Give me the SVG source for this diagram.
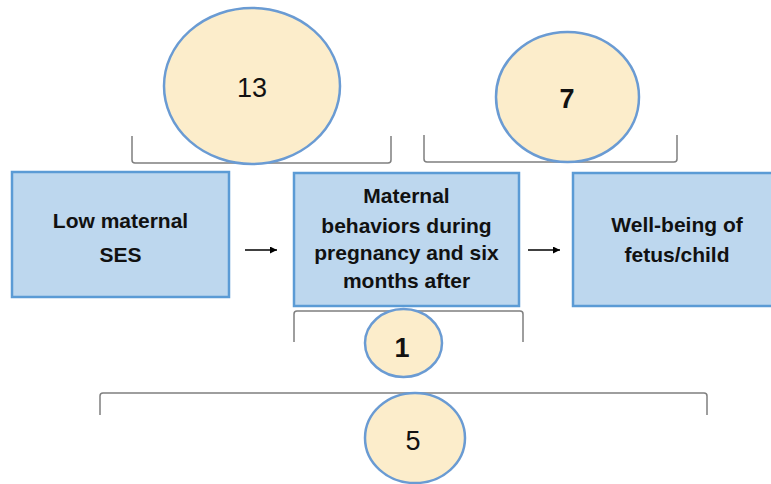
<svg xmlns="http://www.w3.org/2000/svg" width="771" height="484" viewBox="0 0 771 484">
<style>
.box{fill:#BDD7EE;stroke:#5B9BD5;stroke-width:2.5}
.ell{fill:#FCEDCB;stroke:#6A9BD3;stroke-width:2.5}
.br{fill:none;stroke:#7F7F7F;stroke-width:1.5}
.bt{font-family:"Liberation Sans",Arial,sans-serif;font-weight:bold;font-size:21px;fill:#111;text-anchor:middle}
.num{font-family:"Liberation Sans",Arial,sans-serif;font-size:27px;fill:#111;text-anchor:middle}
.arr{stroke:#000;stroke-width:1.5;fill:none}
</style>
<defs>
<marker id="ah" viewBox="0 0 10 10" refX="10" refY="5" markerWidth="7" markerHeight="7" orient="auto" markerUnits="userSpaceOnUse">
<path d="M0,0 L10,5 L0,10 Z" fill="#000"/>
</marker>
</defs>
<g id="brackets">
<path class="br" d="M132,136 V160 Q132,163 135,163 H388 Q391,163 391,160 V136"/>
<path class="br" d="M424,135 V159 Q424,162 427,162 H674 Q677,162 677,159 V135"/>
<path class="br" d="M294,342 V314 Q294,311 297,311 H520 Q523,311 523,314 V342"/>
<path class="br" d="M100,415 V396 Q100,393 103,393 H704 Q707,393 707,396 V415"/>
</g>
<g id="node-low-ses">
<rect class="box" x="12" y="172" width="217" height="125"/>
<text class="bt" x="120.5" y="228">Low maternal</text>
<text class="bt" x="120.5" y="262">SES</text>
</g>
<g id="node-maternal-behaviors">
<rect class="box" x="294" y="173" width="225" height="133"/>
<text class="bt" x="406.5" y="203">Maternal</text>
<text class="bt" x="406.5" y="233">behaviors during</text>
<text class="bt" x="406.5" y="260">pregnancy and six</text>
<text class="bt" x="406.5" y="288">months after</text>
</g>
<g id="node-wellbeing">
<rect class="box" x="573" y="173" width="208" height="133"/>
<text class="bt" x="677" y="232">Well-being of</text>
<text class="bt" x="677" y="262">fetus/child</text>
</g>
<g id="connectors">
<line class="arr" x1="245" y1="250" x2="277" y2="250" marker-end="url(#ah)"/>
<line class="arr" x1="528" y1="250" x2="560" y2="250" marker-end="url(#ah)"/>
</g>
<g id="node-13">
<ellipse class="ell" cx="252" cy="86" rx="88" ry="78"/>
<text class="num" x="252" y="97">13</text>
</g>
<g id="node-7">
<ellipse class="ell" cx="567.5" cy="97" rx="71.5" ry="65"/>
<text class="num" x="567" y="108" font-weight="bold">7</text>
</g>
<g id="node-1">
<ellipse class="ell" cx="403.5" cy="343" rx="38.5" ry="34"/>
<text class="num" x="402" y="357" font-weight="bold" font-size="25">1</text>
</g>
<g id="node-5">
<ellipse class="ell" cx="415" cy="438" rx="50" ry="45"/>
<text class="num" x="413" y="450">5</text>
</g>
</svg>
